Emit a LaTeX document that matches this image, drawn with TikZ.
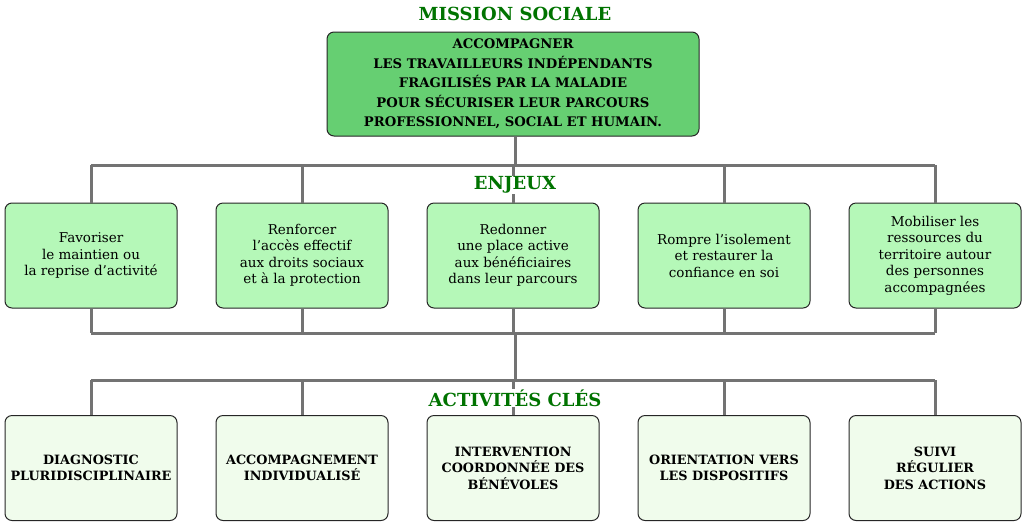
\documentclass[tikz,border=0pt]{standalone}
\usepackage{fontspec}
\setmainfont{DejaVu Serif}
\begin{document}
\begin{tikzpicture}[x=1pt,y=-1pt,
  conn/.style={draw=black!55,line width=3pt},
  box/.style={draw=black!85,line width=1pt,rounded corners=7pt,minimum width=172pt,minimum height=105pt,align=center,inner sep=1pt},
  topbox/.style={box,minimum width=372pt,minimum height=104pt,font=\bfseries\fontsize{13.2}{19.5}\selectfont},
  midbox/.style={box,font=\fontsize{13.5}{16.5}\selectfont},
  lowbox/.style={box,font=\bfseries\fontsize{12.8}{16.5}\selectfont},
  head/.style={font=\bfseries\fontsize{18}{18}\selectfont,text=green!45!black}]
\useasboundingbox (0,0) rectangle (1024,523);
\definecolor{topg}{HTML}{66CF72}
\definecolor{midg}{HTML}{B5F8B8}
\definecolor{lowg}{HTML}{F0FCEC}
\node[head] (t1) at (515,14) {MISSION SOCIALE};
\node[topbox,fill=topg] (top) at (513,84) {ACCOMPAGNER\\LES TRAVAILLEURS INDÉPENDANTS\\FRAGILISÉS PAR LA MALADIE\\POUR SÉCURISER LEUR PARCOURS\\PROFESSIONNEL, SOCIAL ET HUMAIN.};
\foreach \n/\x/\t in {m1/91/{Favoriser\\le maintien ou\\la reprise d’activité},
  m2/302/{Renforcer\\l’accès effectif\\aux droits sociaux\\et à la protection},
  m3/513/{Redonner\\une place active\\aux bénéficiaires\\dans leur parcours},
  m4/724/{Rompre l’isolement\\et restaurer la\\confiance en soi},
  m5/935/{Mobiliser les\\ressources du\\territoire autour\\des personnes\\accompagnées}}
  \node[midbox,fill=midg] (\n) at (\x,255.5) {\t};
\foreach \n/\x/\t in {b1/91/{DIAGNOSTIC\\PLURIDISCIPLINAIRE},
  b2/302/{ACCOMPAGNEMENT\\INDIVIDUALISÉ},
  b3/513/{INTERVENTION\\COORDONNÉE DES\\BÉNÉVOLES},
  b4/724/{ORIENTATION VERS\\LES DISPOSITIFS},
  b5/935/{SUIVI\\RÉGULIER\\DES ACTIONS}}
  \node[lowbox,fill=lowg] (\n) at (\x,468) {\t};
\coordinate (h1) at (515,165);
\coordinate (h2) at (515,333);
\coordinate (h3) at (515,380);
\draw[conn] (top.south -| h1) -- (h1);
\draw[conn] (m1.north|-h1) -- (m5.north|-h1);
\draw[conn] (m1.south|-h2) -- (m5.south|-h2);
\draw[conn] (h2) -- (h3);
\draw[conn] (b1.north|-h3) -- (b5.north|-h3);
\foreach \n in {1,...,5}{
  \draw[conn] (m\n.north|-h1) -- (m\n.north);
  \draw[conn] (m\n.south) -- (m\n.south|-h2);
  \draw[conn] (b\n.north|-h3) -- (b\n.north);}
\node[head,fill=white,inner sep=1pt] (t2) at (515,185) {ENJEUX};
\node[head,fill=white,inner sep=1pt] (t3) at (515,398) {ACTIVITÉS CLÉS};
\end{tikzpicture}
\end{document}
